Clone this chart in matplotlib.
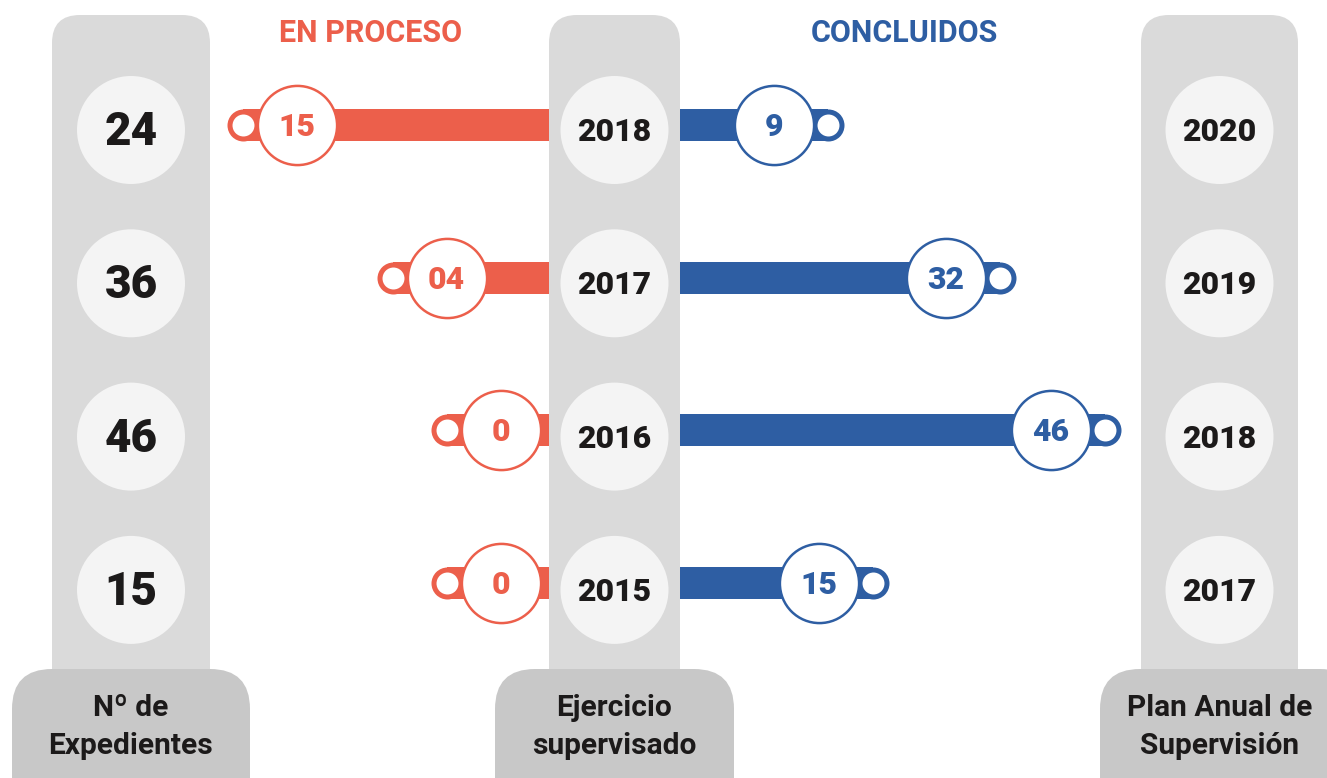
import matplotlib.pyplot as plt
from matplotlib.patches import FancyBboxPatch, Circle

# data
years_mid = ["2018", "2017", "2016", "2015"]
expedientes = [24, 36, 46, 15]
plan_years = ["2020", "2019", "2018", "2017"]
en_proceso = [15, 4, 0, 0]
en_proceso_lbl = ["15", "04", "0", "0"]
concluidos = [9, 32, 46, 15]
concluidos_lbl = ["9", "32", "46", "15"]

RED = "#ec5f4b"
BLUE = "#2e5ea3"
COL_GREY = "#dadada"
DOT_GREY = "#f4f4f4"
BOX_GREY = "#c8c8c8"
INK = "#1c1a1a"

plt.rcParams['font.family'] = ['Roboto', 'DejaVu Sans']

W, H = 1327, 778
fig = plt.figure(figsize=(W / 100, H / 100), dpi=100)

# background canvas in pixel units
ax = fig.add_axes([0, 0, 1, 1])
ax.set_xlim(0, W)
ax.set_ylim(H, 0)
ax.axis('off')

rows = list(range(4))
DOT_Y0, DOT_DY = 130, 153.3


def column(x0, x1, bx0, bx1, line1, line2):
    ax.add_patch(FancyBboxPatch((x0, 15), x1 - x0, 720,
                                boxstyle="round,pad=0,rounding_size=28",
                                fc=COL_GREY, ec='none', zorder=1))
    ax.add_patch(FancyBboxPatch((bx0, 669), bx1 - bx0, 200,
                                boxstyle="round,pad=0,rounding_size=40",
                                fc=BOX_GREY, ec='none', zorder=2))
    cx = (x0 + x1) / 2
    ax.text(cx, 708, line1, ha='center', va='center', fontsize=21.5,
            fontweight='bold', color=INK, zorder=5)
    ax.text(cx, 746, line2, ha='center', va='center', fontsize=21.5,
            fontweight='bold', color=INK, zorder=5)
    return cx


cx_left = column(52, 210, 12, 250, "Nº de", "Expedientes")
cx_mid = column(549, 680, 495, 734, "Ejercicio", "supervisado")
cx_right = column(1141, 1298, 1100, 1360, "Plan Anual de", "Supervisión")

for i in rows:
    y = DOT_Y0 + DOT_DY * i
    for cx in (cx_left, cx_mid, cx_right):
        ax.add_patch(Circle((cx, y), 54, fc=DOT_GREY, ec='none', zorder=3))
    ax.text(cx_left, y + 2, str(expedientes[i]), ha='center', va='center',
            fontsize=33, fontweight='heavy', color=INK, zorder=4)
    ax.text(cx_mid, y + 2, years_mid[i], ha='center', va='center',
            fontsize=23, fontweight='heavy', color=INK, zorder=4)
    ax.text(cx_right, y + 2, plan_years[i], ha='center', va='center',
            fontsize=23, fontweight='heavy', color=INK, zorder=4)

ax.text(371, 33, "EN PROCESO", ha='center', va='center', fontsize=22,
        fontweight='bold', color=RED)
ax.text(904, 33, "CONCLUIDOS", ha='center', va='center', fontsize=22,
        fontweight='bold', color=BLUE)

# bar layers: value axis per side, rows on y
BAR_Y0, BAR_DY = 125, 152.7
BAR_H = 32
CAP_PX = 54


def series(values, labels, color, x0, k, edge_px):
    a = fig.add_axes([0, 0, 1, 1])
    a.set_xlim((0 - x0) / k, (W - x0) / k)
    a.set_ylim((H - BAR_Y0) / BAR_DY, (0 - BAR_Y0) / BAR_DY)
    a.axis('off')
    start = (edge_px - x0) / k
    cap = CAP_PX / abs(k)
    ends = [v + cap for v in values]
    a.barh(rows, [e - start for e in ends], left=start, height=BAR_H / BAR_DY,
           color=color, zorder=1)
    a.scatter(ends, rows, s=531, color=color, lw=0, zorder=2)
    a.scatter(ends, rows, s=250, color='white', lw=0, zorder=3)
    a.scatter(values, rows, s=3250, facecolor='white', edgecolor=color,
              lw=1.8, zorder=4)
    for v, i, lab in zip(values, rows, labels):
        a.text(v, i + 0.012, lab, ha='center', va='center', fontsize=23,
               fontweight='heavy', color=color, zorder=5)


series(en_proceso, en_proceso_lbl, RED, 501, -13.59, 549)
series(concluidos, concluidos_lbl, BLUE, 706.7, 7.48, 680)

fig.savefig("out.png", dpi=100)
